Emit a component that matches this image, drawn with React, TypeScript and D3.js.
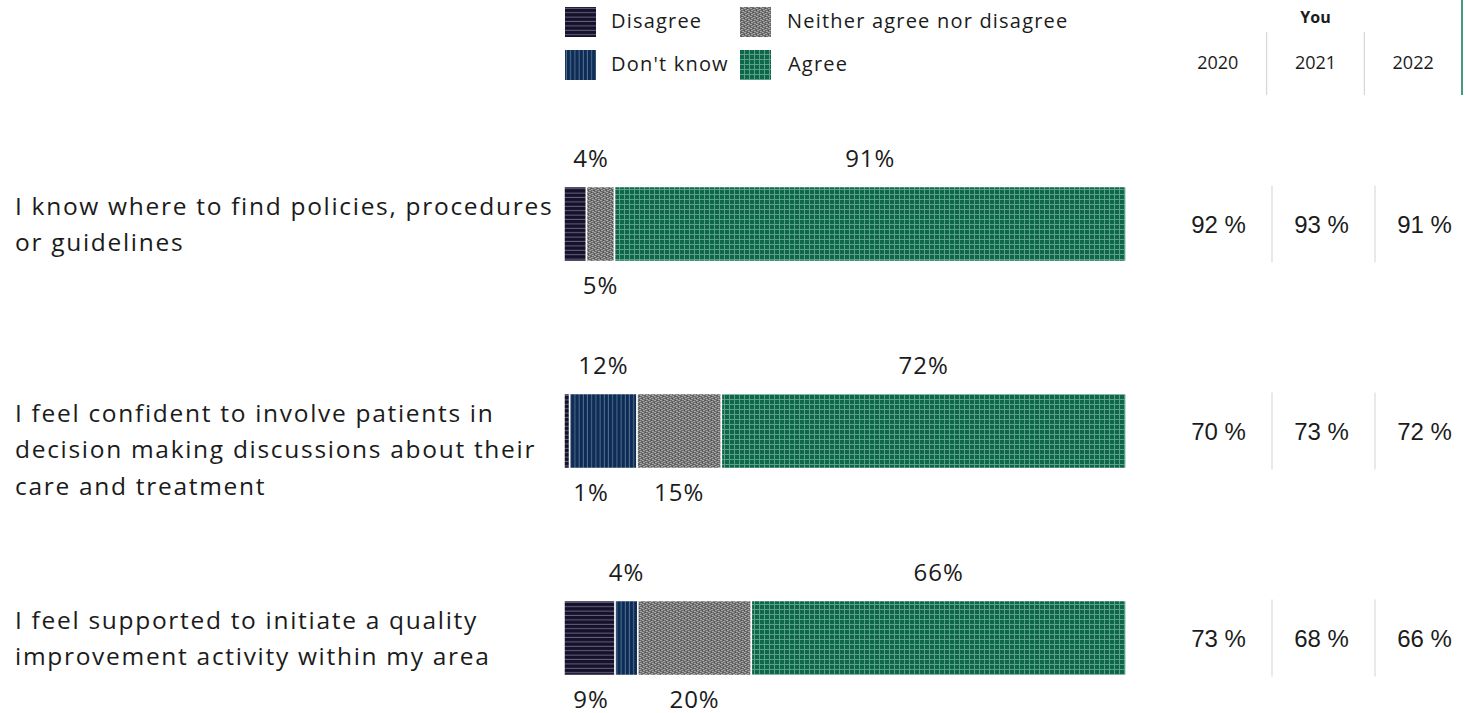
import React from 'react';
import * as d3 from 'd3';

const categories = ['Disagree', "Don't know", 'Neither agree nor disagree', 'Agree'];
const questions = [
  ['I know where to find policies, procedures', 'or guidelines'],
  ['I feel confident to involve patients in', 'decision making discussions about their', 'care and treatment'],
  ['I feel supported to initiate a quality', 'improvement activity within my area'],
];
const disagree = [4, 1, 9];
const dontKnow = [0, 12, 4];
const neither = [5, 15, 20];
const agree = [91, 72, 66];
const years = ['2020', '2021', '2022'];
const you2020 = [92, 70, 73];
const you2021 = [93, 73, 68];
const you2022 = [91, 72, 66];
const tableTitle = 'You';

const W = 1466;
const H = 713;
const TXT = '#1b1b1b';
const LABEL_FONT = "'Open Sans', sans-serif";
const NUM_FONT = "'Liberation Sans', Arial, sans-serif";

function Patterns() {
  return (
    <defs>
      <pattern id="p0" patternUnits="userSpaceOnUse" width="6" height="4.4">
        <rect width="6" height="4.4" fill="#15112a" />
        <rect y="3.4" width="6" height="1" fill="#676280" />
      </pattern>
      <pattern id="p1" patternUnits="userSpaceOnUse" width="4.2" height="6">
        <rect width="4.2" height="6" fill="#0c2c55" />
        <rect x="3.2" width="1" height="6" fill="#56708f" />
      </pattern>
      <pattern id="p2" patternUnits="userSpaceOnUse" width="6" height="4">
        <rect width="6" height="4" fill="#6c6c6c" />
        <rect x="0" y="0" width="2" height="1" fill="#a5a5a5" />
        <rect x="3" y="1" width="2" height="1" fill="#a5a5a5" />
        <rect x="1" y="2" width="2" height="1" fill="#a5a5a5" />
        <rect x="4" y="3" width="2" height="1" fill="#a5a5a5" />
        <rect x="3" y="0" width="1" height="1" fill="#4e4e4e" />
        <rect x="0" y="2" width="1" height="1" fill="#4e4e4e" />
      </pattern>
      <pattern id="p3" patternUnits="userSpaceOnUse" width="5" height="5">
        <rect width="5" height="5" fill="#0d674a" />
        <rect x="4" width="1" height="5" fill="#5e9f87" />
        <rect y="4" width="5" height="1" fill="#5e9f87" />
      </pattern>
    </defs>
  );
}

export default function App() {
  const series = [disagree, dontKnow, neither, agree];
  const rows = questions.map((q, i) => {
    const vals = series.map((s) => s[i]);
    const total = d3.sum(vals);
    let acc = 0;
    const segs = vals.map((v, k) => {
      const s = { k, v, x0: acc / total, x1: (acc + v) / total };
      acc += v;
      return s;
    });
    return { q, segs };
  });

  const x = d3.scaleLinear().domain([0, 1]).range([564, 1126]);
  const y = d3.scaleBand<number>().domain(d3.range(questions.length)).range([120.5, 741.5]);
  const barH = 75;
  const youVals = [you2020, you2021, you2022];

  const headCols = d3.scaleBand<number>().domain([0, 1, 2]).range([1169, 1462]);
  const rowCols = d3.scaleBand<number>().domain([0, 1, 2]).range([1169, 1478]);

  const legendPos = [
    { sx: 565, tx: 611, y: 7 },
    { sx: 565, tx: 611, y: 50 },
    { sx: 740, tx: 787, y: 7 },
    { sx: 740, tx: 788, y: 50 },
  ];

  return (
    <svg width={W} height={H} style={{ position: 'absolute', left: 0, top: 0, background: '#fff' }}>
      <Patterns />
      {categories.map((c, i) => (
        <g key={c}>
          <rect x={legendPos[i].sx} y={legendPos[i].y} width={31} height={30} fill={`url(#p${i})`} />
          <text x={legendPos[i].tx} y={legendPos[i].y + 21} fontFamily={LABEL_FONT} fontSize={20} letterSpacing={1.2} fill={TXT}>
            {c}
          </text>
        </g>
      ))}

      <text x={headCols(1)! + headCols.bandwidth() / 2} y={23} textAnchor="middle" fontFamily={LABEL_FONT} fontWeight={700} fontSize={16} fill={TXT}>
        {tableTitle}
      </text>
      {years.map((yr, i) => (
        <text key={yr} x={headCols(i)! + headCols.bandwidth() / 2} y={69} textAnchor="middle" fontFamily={LABEL_FONT} fontSize={18} fill={TXT}>
          {yr}
        </text>
      ))}
      {[1, 2].map((i) => (
        <line key={i} x1={headCols(i)!} x2={headCols(i)!} y1={32} y2={95} stroke="#cfcfcf" strokeWidth={1} />
      ))}
      <line x1={1462} x2={1462} y1={0} y2={95} stroke="#0b7a4b" strokeWidth={1.5} />

      {rows.map((r, i) => {
        const top = y(i)! + (y.bandwidth() - barH) / 2;
        const cy = top + barH / 2;
        const nz = r.segs.filter((s) => s.v > 0);
        return (
          <g key={i}>
            {r.q.map((line, li) => (
              <text key={li} x={15} y={top + 28 + li * 36.5} fontFamily={LABEL_FONT} fontSize={24.5} letterSpacing={1.7} fill={TXT}>
                {line}
              </text>
            ))}
            {nz.map((s) => (
              <rect
                key={s.k}
                x={x(s.x0)}
                y={top}
                width={Math.max(0, x(s.x1) - x(s.x0))}
                height={barH}
                fill={`url(#p${s.k})`}
                stroke="#fff"
                strokeWidth={1.5}
              />
            ))}
            {nz.map((s, j) => {
              const above = (nz.length - 1 - j) % 2 === 0;
              const label = `${s.v}%`;
              const est = label.length * 15;
              const cx = (x(s.x0) + x(s.x1)) / 2;
              const lx = Math.max(cx, x(0) + 12 + est / 2);
              return (
                <text
                  key={s.k}
                  x={lx}
                  y={above ? top - 20 : top + barH + 32}
                  textAnchor="middle"
                  fontFamily={LABEL_FONT}
                  fontSize={24}
                  letterSpacing={1}
                  fill={TXT}
                >
                  {label}
                </text>
              );
            })}
            {youVals.map((arr, c) => (
              <text key={c} x={rowCols(c)! + rowCols.bandwidth() / 2 - 2} y={cy + 8.5} textAnchor="middle" fontFamily={NUM_FONT} fontSize={24} fill={TXT}>
                {`${arr[i]} %`}
              </text>
            ))}
            {[1, 2].map((c) => (
              <line key={c} x1={rowCols(c)!} x2={rowCols(c)!} y1={top - 1} y2={top + barH + 1} stroke="#d3d3d3" strokeWidth={1} />
            ))}
          </g>
        );
      })}
    </svg>
  );
}
